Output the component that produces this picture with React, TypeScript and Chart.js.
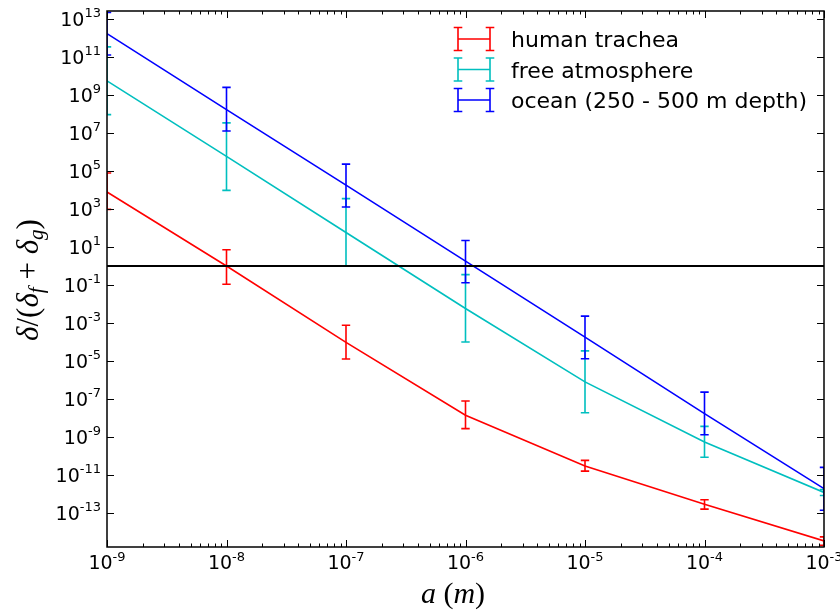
import React, { useEffect, useRef } from "react";
import { Chart, registerables } from "chart.js";

Chart.register(...registerables);

// ---------- data ----------
const particleSizes = [1e-9, 1e-8, 1e-7, 1e-6, 1e-5, 1e-4, 1e-3];
const seriesNames = ["human trachea", "free atmosphere", "ocean (250 - 500 m depth)"];
const seriesColors = ["#ff0000", "#00bfbf", "#0000ff"];

const tracheaValues = [7.8e3, 1.0, 9.5e-5, 1.4e-8, 3.0e-11, 2.9e-13, 3.4e-15];
const tracheaLower = [9.5e2, 1.1e-1, 1.26e-5, 2.75e-9, 1.6e-11, 1.6e-13, 2.0e-15];
const tracheaUpper = [7.8e4, 7.2, 7.6e-4, 7.9e-8, 5.9e-11, 5.0e-13, 5.5e-15];

const atmosphereValues = [5.5e9, 5.9e5, 58, 5.8e-3, 7.9e-7, 5.5e-10, 1.2e-12];
const atmosphereLower = [9.3e7, 9.5e3, 1.0, 1.0e-4, 1.9e-8, 8.5e-11, 8.3e-13];
const atmosphereUpper = [3.4e11, 3.4e7, 3.5e3, 0.35, 3.4e-5, 3.6e-9, 1.7e-12];

const oceanValues = [1.7e12, 1.7e8, 1.8e4, 1.8, 1.8e-4, 1.7e-8, 1.9e-12];
const oceanLower = [1.26e11, 1.26e7, 1.26e3, 0.13, 1.3e-5, 1.3e-9, 1.4e-13];
const oceanUpper = [2.2e13, 2.5e9, 2.3e5, 22, 2.3e-3, 2.3e-7, 2.5e-11];

const referenceLevel = 1;

const xMajorExponents = [-9, -8, -7, -6, -5, -4, -3];
const xMinorMultipliers = [2, 3, 4, 5, 6, 7, 8, 9];
const yTickExponents = [13, 11, 9, 7, 5, 3, 1, -1, -3, -5, -7, -9, -11, -13];
const yMin = 1.62e-15;
const yMax = 2.63e13;

const seriesValues = [tracheaValues, atmosphereValues, oceanValues];
const seriesLower = [tracheaLower, atmosphereLower, oceanLower];
const seriesUpper = [tracheaUpper, atmosphereUpper, oceanUpper];

// ---------- drawing helpers ----------
const SANS = '"DejaVu Sans", sans-serif';
const SERIF = '"Liberation Serif", "DejaVu Serif", serif';
const LINE_W = 1.6;

function drawPow(ctx: CanvasRenderingContext2D, exp: number, x: number, baseline: number, align: "center" | "right") {
  const base = "10";
  const sup = String(exp);
  ctx.font = `19px ${SANS}`;
  const wb = ctx.measureText(base).width;
  ctx.font = `13px ${SANS}`;
  const ws = ctx.measureText(sup).width;
  const total = wb + ws;
  const left = align === "center" ? x - total / 2 : x - total;
  ctx.textAlign = "left";
  ctx.textBaseline = "alphabetic";
  ctx.font = `19px ${SANS}`;
  ctx.fillText(base, left, baseline);
  ctx.font = `13px ${SANS}`;
  ctx.fillText(sup, left + wb, baseline - 8.5);
}

type Piece = { t: string; font: string; dy?: number };

function drawPieces(ctx: CanvasRenderingContext2D, pieces: Piece[], cx: number, baseline: number) {
  let total = 0;
  const widths = pieces.map((p) => {
    ctx.font = p.font;
    const w = ctx.measureText(p.t).width;
    total += w;
    return w;
  });
  let x = cx - total / 2;
  ctx.textAlign = "left";
  ctx.textBaseline = "alphabetic";
  pieces.forEach((p, i) => {
    ctx.font = p.font;
    ctx.fillText(p.t, x, baseline + (p.dy || 0));
    x += widths[i];
  });
}

const errorBarPlugin = {
  id: "errorBars",
  afterDatasetDraw(chart: any, args: any) {
    const idx = args.index;
    if (idx >= seriesValues.length) return;
    const { ctx, chartArea, scales } = chart;
    const xs = scales.x;
    const ys = scales.y;
    ctx.save();
    ctx.beginPath();
    ctx.rect(chartArea.left, chartArea.top, chartArea.right - chartArea.left, chartArea.bottom - chartArea.top);
    ctx.clip();
    ctx.strokeStyle = seriesColors[idx];
    ctx.lineWidth = LINE_W;
    const cap = 4.2;
    particleSizes.forEach((a, i) => {
      const px = xs.getPixelForValue(a);
      const lo = ys.getPixelForValue(seriesLower[idx][i]);
      const hi = ys.getPixelForValue(seriesUpper[idx][i]);
      ctx.beginPath();
      ctx.moveTo(px, lo);
      ctx.lineTo(px, hi);
      ctx.moveTo(px - cap, lo);
      ctx.lineTo(px + cap, lo);
      ctx.moveTo(px - cap, hi);
      ctx.lineTo(px + cap, hi);
      ctx.stroke();
    });
    ctx.restore();
  },
};

const decorPlugin = {
  id: "decor",
  afterDraw(chart: any) {
    const { ctx, chartArea, scales } = chart;
    const xs = scales.x;
    const ys = scales.y;
    const { left, right, top, bottom } = chartArea;
    ctx.save();
    ctx.fillStyle = "#000";
    ctx.strokeStyle = "#000";

    // frame
    ctx.lineWidth = 1.5;
    ctx.strokeRect(left, top, right - left, bottom - top);

    // ticks (inward on all four sides)
    ctx.lineWidth = 1;
    const majorLen = 7;
    const minorLen = 3.5;
    ctx.beginPath();
    xMajorExponents.forEach((e) => {
      const px = Math.round(xs.getPixelForValue(Math.pow(10, e))) + 0.5;
      ctx.moveTo(px, bottom);
      ctx.lineTo(px, bottom - majorLen);
      ctx.moveTo(px, top);
      ctx.lineTo(px, top + majorLen);
    });
    xMajorExponents.slice(0, -1).forEach((e) => {
      xMinorMultipliers.forEach((m) => {
        const px = Math.round(xs.getPixelForValue(m * Math.pow(10, e))) + 0.5;
        ctx.moveTo(px, bottom);
        ctx.lineTo(px, bottom - minorLen);
        ctx.moveTo(px, top);
        ctx.lineTo(px, top + minorLen);
      });
    });
    yTickExponents.forEach((e) => {
      const py = Math.round(ys.getPixelForValue(Math.pow(10, e))) + 0.5;
      ctx.moveTo(left, py);
      ctx.lineTo(left + majorLen, py);
      ctx.moveTo(right, py);
      ctx.lineTo(right - majorLen, py);
    });
    ctx.stroke();

    // tick labels
    xMajorExponents.forEach((e) => {
      const px = xs.getPixelForValue(Math.pow(10, e));
      drawPow(ctx, e, px, bottom + 22, "center");
    });
    yTickExponents.forEach((e) => {
      const py = ys.getPixelForValue(Math.pow(10, e));
      drawPow(ctx, e, left - 6, py + 7, "right");
    });

    // x axis title: a (m)
    const it = `italic 30px ${SERIF}`;
    const up = `30px ${SERIF}`;
    drawPieces(
      ctx,
      [
        { t: "a", font: it },
        { t: " (", font: up },
        { t: "m", font: it },
        { t: ")", font: up },
      ],
      453,
      603
    );

    // y axis title: δ/(δ_f + δ_g)
    ctx.save();
    ctx.translate(38, 280);
    ctx.rotate(-Math.PI / 2);
    const yi = `italic 31px ${SERIF}`;
    const yu = `31px ${SERIF}`;
    const ys2 = `italic 21px ${SERIF}`;
    drawPieces(
      ctx,
      [
        { t: "δ", font: yi },
        { t: "/", font: yu },
        { t: "(", font: yu },
        { t: "δ", font: yi },
        { t: "f", font: ys2, dy: 5 },
        { t: " + ", font: yu },
        { t: "δ", font: yi },
        { t: "g", font: ys2, dy: 5 },
        { t: ")", font: yu },
      ],
      0,
      0
    );
    ctx.restore();

    // legend
    const rowY = [39, 69.5, 100];
    seriesNames.forEach((name, i) => {
      const cy = rowY[i];
      ctx.strokeStyle = seriesColors[i];
      ctx.lineWidth = LINE_W;
      const x1 = 458;
      const x2 = 490;
      const h = 11.5;
      const cap = 4.3;
      ctx.beginPath();
      ctx.moveTo(x1, cy);
      ctx.lineTo(x2, cy);
      [x1, x2].forEach((bx) => {
        ctx.moveTo(bx, cy - h);
        ctx.lineTo(bx, cy + h);
        ctx.moveTo(bx - cap, cy - h);
        ctx.lineTo(bx + cap, cy - h);
        ctx.moveTo(bx - cap, cy + h);
        ctx.lineTo(bx + cap, cy + h);
      });
      ctx.stroke();
      ctx.fillStyle = "#000";
      ctx.font = `22px ${SANS}`;
      ctx.textAlign = "left";
      ctx.textBaseline = "alphabetic";
      ctx.fillText(name, 511, cy + 8);
    });

    ctx.restore();
  },
};

export default function App() {
  const canvasRef = useRef<HTMLCanvasElement | null>(null);

  useEffect(() => {
    const canvas = canvasRef.current;
    if (!canvas) return;
    const datasets: any[] = seriesNames.map((name, s) => ({
      label: name,
      data: particleSizes.map((a, i) => ({ x: a, y: seriesValues[s][i] })),
      borderColor: seriesColors[s],
      backgroundColor: seriesColors[s],
      borderWidth: LINE_W,
      pointRadius: 0,
      fill: false,
      tension: 0,
      order: 3 - s,
    }));
    datasets.push({
      label: "reference",
      data: [
        { x: particleSizes[0], y: referenceLevel },
        { x: particleSizes[particleSizes.length - 1], y: referenceLevel },
      ],
      borderColor: "#000000",
      borderWidth: 1.8,
      pointRadius: 0,
      fill: false,
      order: 0,
    });

    const chart = new Chart(canvas, {
      type: "line",
      data: { datasets },
      options: {
        animation: false,
        responsive: true,
        maintainAspectRatio: false,
        devicePixelRatio: 1,
        layout: { padding: { left: 107, right: 16, top: 11, bottom: 67 } },
        plugins: { legend: { display: false }, tooltip: { enabled: false } },
        scales: {
          x: { type: "logarithmic", min: 1e-9, max: 1e-3, display: false },
          y: { type: "logarithmic", min: yMin, max: yMax, display: false },
        },
      },
      plugins: [errorBarPlugin, decorPlugin],
    } as any);
    return () => chart.destroy();
  }, []);

  return (
    <div style={{ position: "fixed", left: 0, top: 0, width: 840, height: 614, background: "#fff" }}>
      <canvas ref={canvasRef} />
    </div>
  );
}
